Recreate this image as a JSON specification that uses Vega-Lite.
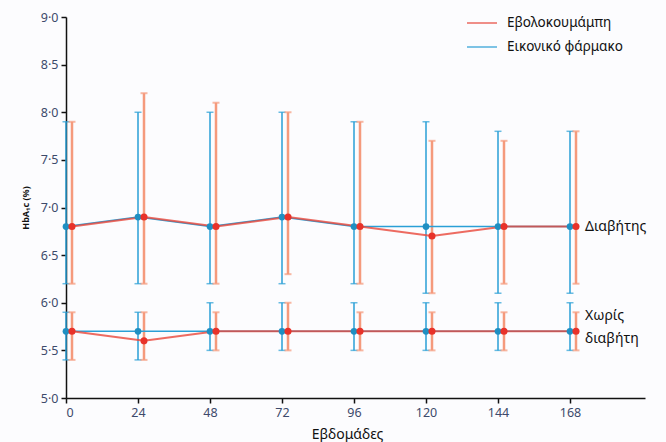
{
  "$schema": "https://vega.github.io/schema/vega-lite/v6.json",
  "autosize": {"type": "none"},
  "width": 579,
  "height": 381,
  "padding": {"left": 66, "top": 17, "right": 21, "bottom": 44},
  "background": "#fcfcfe",
  "config": {
    "view": {"stroke": null},
    "font": "Noto Sans",
    "axis": {"grid": false, "domainColor": "#111111", "domainWidth": 1.5, "tickColor": "#111111", "tickWidth": 1.5, "tickSize": 5, "labelColor": "#3d4a6b", "labelFont": "Noto Sans", "labelFontSize": 12.5, "labelFontWeight": "normal"}
  },
  "datasets": {
    "hba1c": [
      {"group": "Διαβήτης", "series": "Εικονικό φάρμακο", "week": 0, "mean": 6.8, "lo": 6.2, "hi": 7.9},
      {"group": "Διαβήτης", "series": "Εικονικό φάρμακο", "week": 24, "mean": 6.9, "lo": 6.2, "hi": 8.0},
      {"group": "Διαβήτης", "series": "Εικονικό φάρμακο", "week": 48, "mean": 6.8, "lo": 6.2, "hi": 8.0},
      {"group": "Διαβήτης", "series": "Εικονικό φάρμακο", "week": 72, "mean": 6.9, "lo": 6.2, "hi": 8.0},
      {"group": "Διαβήτης", "series": "Εικονικό φάρμακο", "week": 96, "mean": 6.8, "lo": 6.2, "hi": 7.9},
      {"group": "Διαβήτης", "series": "Εικονικό φάρμακο", "week": 120, "mean": 6.8, "lo": 6.1, "hi": 7.9},
      {"group": "Διαβήτης", "series": "Εικονικό φάρμακο", "week": 144, "mean": 6.8, "lo": 6.1, "hi": 7.8},
      {"group": "Διαβήτης", "series": "Εικονικό φάρμακο", "week": 168, "mean": 6.8, "lo": 6.1, "hi": 7.8},
      {"group": "Διαβήτης", "series": "Εβολοκουμάμπη", "week": 0, "mean": 6.8, "lo": 6.2, "hi": 7.9},
      {"group": "Διαβήτης", "series": "Εβολοκουμάμπη", "week": 24, "mean": 6.9, "lo": 6.2, "hi": 8.2},
      {"group": "Διαβήτης", "series": "Εβολοκουμάμπη", "week": 48, "mean": 6.8, "lo": 6.2, "hi": 8.1},
      {"group": "Διαβήτης", "series": "Εβολοκουμάμπη", "week": 72, "mean": 6.9, "lo": 6.3, "hi": 8.0},
      {"group": "Διαβήτης", "series": "Εβολοκουμάμπη", "week": 96, "mean": 6.8, "lo": 6.2, "hi": 7.9},
      {"group": "Διαβήτης", "series": "Εβολοκουμάμπη", "week": 120, "mean": 6.7, "lo": 6.1, "hi": 7.7},
      {"group": "Διαβήτης", "series": "Εβολοκουμάμπη", "week": 144, "mean": 6.8, "lo": 6.2, "hi": 7.7},
      {"group": "Διαβήτης", "series": "Εβολοκουμάμπη", "week": 168, "mean": 6.8, "lo": 6.2, "hi": 7.8},
      {"group": "Χωρίς διαβήτη", "series": "Εικονικό φάρμακο", "week": 0, "mean": 5.7, "lo": 5.4, "hi": 5.9},
      {"group": "Χωρίς διαβήτη", "series": "Εικονικό φάρμακο", "week": 24, "mean": 5.7, "lo": 5.4, "hi": 5.9},
      {"group": "Χωρίς διαβήτη", "series": "Εικονικό φάρμακο", "week": 48, "mean": 5.7, "lo": 5.5, "hi": 6.0},
      {"group": "Χωρίς διαβήτη", "series": "Εικονικό φάρμακο", "week": 72, "mean": 5.7, "lo": 5.5, "hi": 6.0},
      {"group": "Χωρίς διαβήτη", "series": "Εικονικό φάρμακο", "week": 96, "mean": 5.7, "lo": 5.5, "hi": 6.0},
      {"group": "Χωρίς διαβήτη", "series": "Εικονικό φάρμακο", "week": 120, "mean": 5.7, "lo": 5.5, "hi": 6.0},
      {"group": "Χωρίς διαβήτη", "series": "Εικονικό φάρμακο", "week": 144, "mean": 5.7, "lo": 5.5, "hi": 6.0},
      {"group": "Χωρίς διαβήτη", "series": "Εικονικό φάρμακο", "week": 168, "mean": 5.7, "lo": 5.5, "hi": 6.0},
      {"group": "Χωρίς διαβήτη", "series": "Εβολοκουμάμπη", "week": 0, "mean": 5.7, "lo": 5.4, "hi": 5.9},
      {"group": "Χωρίς διαβήτη", "series": "Εβολοκουμάμπη", "week": 24, "mean": 5.6, "lo": 5.4, "hi": 5.9},
      {"group": "Χωρίς διαβήτη", "series": "Εβολοκουμάμπη", "week": 48, "mean": 5.7, "lo": 5.5, "hi": 5.9},
      {"group": "Χωρίς διαβήτη", "series": "Εβολοκουμάμπη", "week": 72, "mean": 5.7, "lo": 5.5, "hi": 6.0},
      {"group": "Χωρίς διαβήτη", "series": "Εβολοκουμάμπη", "week": 96, "mean": 5.7, "lo": 5.5, "hi": 5.9},
      {"group": "Χωρίς διαβήτη", "series": "Εβολοκουμάμπη", "week": 120, "mean": 5.7, "lo": 5.5, "hi": 5.9},
      {"group": "Χωρίς διαβήτη", "series": "Εβολοκουμάμπη", "week": 144, "mean": 5.7, "lo": 5.5, "hi": 5.9},
      {"group": "Χωρίς διαβήτη", "series": "Εβολοκουμάμπη", "week": 168, "mean": 5.7, "lo": 5.5, "hi": 5.9}
    ],
    "labels": [
      {"week": 173, "value": 6.8, "label": "Διαβήτης"},
      {"week": 173, "value": 5.7, "label": "Χωρίς\nδιαβήτη"}
    ]
  },
  "data": {"name": "hba1c"},
  "encoding": {
    "x": {"field": "week", "type": "quantitative", "scale": {"domain": [0, 193], "nice": false, "zero": false},
      "axis": {"values": [0, 24, 48, 72, 96, 120, 144, 168], "title": "Εβδομάδες", "titleFont": "Noto Sans", "titleFontSize": 14, "titleFontWeight": "normal", "titleColor": "#111111", "titlePadding": 9, "titleX": 281, "titleAlign": "center", "labelPadding": 3}},
    "y": {"field": "mean", "type": "quantitative", "scale": {"domain": [5, 9], "nice": false, "zero": false},
      "axis": {"values": [5, 5.5, 6, 6.5, 7, 7.5, 8, 8.5, 9], "labelExpr": "replace(format(datum.value, '.1f'), '.', '·')", "title": "HbA₁c (%)", "titleFont": "Noto Sans", "titleFontSize": 9, "titleFontWeight": "bold", "titleColor": "#111111", "titlePadding": 10, "labelPadding": 3}}
  },
  "layer": [
    {"transform": [{"filter": "datum.series == 'Εικονικό φάρμακο'"}], "mark": {"type": "rule", "color": "#2a9fd6", "strokeWidth": 1.5},
      "encoding": {"y": {"field": "lo", "type": "quantitative"}, "y2": {"field": "hi"}}},
    {"transform": [{"filter": "datum.series == 'Εικονικό φάρμακο'"}], "mark": {"type": "tick", "orient": "horizontal", "color": "#2a9fd6", "size": 7, "thickness": 1.5},
      "encoding": {"y": {"field": "hi", "type": "quantitative"}}},
    {"transform": [{"filter": "datum.series == 'Εικονικό φάρμακο'"}], "mark": {"type": "tick", "orient": "horizontal", "color": "#2a9fd6", "size": 7, "thickness": 1.5},
      "encoding": {"y": {"field": "lo", "type": "quantitative"}}},
    {"transform": [{"filter": "datum.series == 'Εβολοκουμάμπη'"}], "mark": {"type": "rule", "color": "#f59a7c", "strokeWidth": 2.5, "xOffset": 6},
      "encoding": {"y": {"field": "lo", "type": "quantitative"}, "y2": {"field": "hi"}}},
    {"transform": [{"filter": "datum.series == 'Εβολοκουμάμπη'"}], "mark": {"type": "tick", "orient": "horizontal", "color": "#f59a7c", "size": 7, "thickness": 2, "xOffset": 6},
      "encoding": {"y": {"field": "hi", "type": "quantitative"}}},
    {"transform": [{"filter": "datum.series == 'Εβολοκουμάμπη'"}], "mark": {"type": "tick", "orient": "horizontal", "color": "#f59a7c", "size": 7, "thickness": 2, "xOffset": 6},
      "encoding": {"y": {"field": "lo", "type": "quantitative"}}},
    {"transform": [{"filter": "datum.series == 'Εικονικό φάρμακο'"}], "mark": {"type": "line", "strokeWidth": 1.5},
      "encoding": {"detail": {"field": "group"},
        "color": {"field": "series", "type": "nominal", "scale": {"domain": ["Εβολοκουμάμπη", "Εικονικό φάρμακο"], "range": ["#e8463a", "#2a9fd6"]},
          "legend": {"title": null, "orient": "none", "legendX": 400, "legendY": -3, "symbolType": "stroke", "symbolSize": 900, "symbolStrokeWidth": 1.5, "clipHeight": 18, "labelFontSize": 13.5, "labelColor": "#111111", "labelFont": "Noto Sans", "rowPadding": 6, "labelOffset": 9}}}},
    {"transform": [{"filter": "datum.series == 'Εβολοκουμάμπη'"}], "mark": {"type": "line", "strokeWidth": 2, "xOffset": 6, "opacity": 0.8},
      "encoding": {"detail": {"field": "group"},
        "color": {"field": "series", "type": "nominal"}}},
    {"transform": [{"filter": "datum.series == 'Εικονικό φάρμακο'"}], "mark": {"type": "point", "filled": true, "color": "#1f8fc2", "size": 45, "opacity": 1}},
    {"transform": [{"filter": "datum.series == 'Εβολοκουμάμπη'"}], "mark": {"type": "point", "filled": true, "color": "#e8322a", "size": 50, "opacity": 1, "xOffset": 6}},
    {"data": {"name": "labels"}, "transform": [{"filter": "datum.value > 6"}], "mark": {"type": "text", "align": "left", "baseline": "middle", "fontSize": 14, "font": "Noto Sans", "color": "#111111"},
      "encoding": {"x": {"field": "week", "type": "quantitative"}, "y": {"field": "value", "type": "quantitative"}, "text": {"field": "label"}}},
    {"data": {"name": "labels"}, "transform": [{"filter": "datum.value < 6"}], "mark": {"type": "text", "align": "left", "baseline": "middle", "fontSize": 14, "font": "Noto Sans", "color": "#111111", "lineBreak": "\n", "lineHeight": 23, "dy": -15},
      "encoding": {"x": {"field": "week", "type": "quantitative"}, "y": {"field": "value", "type": "quantitative"}, "text": {"field": "label"}}}
  ]
}
